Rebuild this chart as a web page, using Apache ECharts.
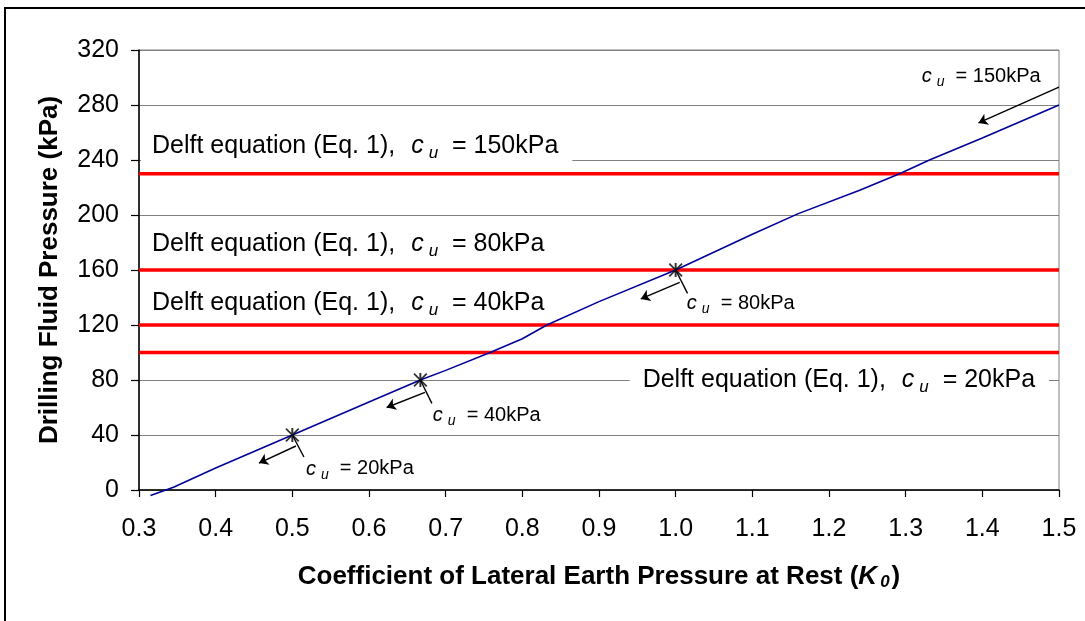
<!DOCTYPE html>
<html>
<head>
<meta charset="utf-8">
<script src="https://cdn.jsdelivr.net/npm/echarts@6/dist/echarts.min.js"></script>
<style>
html,body{margin:0;padding:0;background:#fff;}
#chart{width:1085px;height:621px;}
</style>
</head>
<body>
<div id="chart"></div>
<script>
// ---- data ----
const kValues  = [0.315, 0.345, 0.40, 0.45, 0.50, 0.55, 0.60, 0.667, 0.70, 0.758, 0.80, 0.832, 0.90, 1.00, 1.10, 1.16, 1.24, 1.292, 1.331, 1.40, 1.50];
const pressure = [-4, 2, 16, 28, 40, 52, 64, 80, 87, 100, 110, 120, 137, 160, 186, 201, 218, 230, 240, 256, 280];

const delftPressure = [230, 160, 120, 100];
const delftCu       = [150, 80, 40, 20];

const markerK  = [0.5, 0.667, 1.0];
const markerP  = [40, 80, 160];
const markerCu = [20, 40, 80];

const curveCuLabels = [20, 40, 80, 150];

const xTicks = [0.3, 0.4, 0.5, 0.6, 0.7, 0.8, 0.9, 1.0, 1.1, 1.2, 1.3, 1.4, 1.5];
const yTicks = [0, 40, 80, 120, 160, 200, 240, 280, 320];

// ---- annotation placement (data coordinates) ----
const delftLabelAt = [[0.3026, 250], [0.3026, 179], [0.3026, 136], [0.940, 80]];
const delftPadLeft = [11, 11, 11, 13];
const curveLabelAt = [[0.5177, 15.3], [0.6833, 54.5], [1.0145, 136], [1.3209, 301]];
const leaderLines  = [
  [[0.500, 40], [0.5151, 24]],
  [[0.667, 80], [0.682, 63]],
  [[1.000, 160], [1.0155, 143]]
];
const arrowLines = [
  [[0.5047, 32], [0.4565, 19.6]],
  [[0.673, 71], [0.623, 60]],
  [[1.0053, 151], [0.9545, 139]],
  [[1.500, 293], [1.395, 267]]
];

const FONT = "'Liberation Sans', Arial, sans-serif";
const chart = echarts.init(document.getElementById('chart'), null, {renderer:'canvas'});

const bigRich = {
  t: {fontSize: 25, fontFamily: FONT, color: '#000'},
  c: {fontSize: 25, fontFamily: FONT, fontStyle: 'italic', color: '#000', padding: [0, 0, 0, 9]},
  u: {fontSize: 17, fontFamily: FONT, fontStyle: 'italic', color: '#000', padding: [15, 0, 0, 5]}
};
const smallRich = {
  t: {fontSize: 20, fontFamily: FONT, color: '#000'},
  c: {fontSize: 20, fontFamily: FONT, fontStyle: 'italic', color: '#000'},
  u: {fontSize: 14, fontFamily: FONT, fontStyle: 'italic', color: '#000', padding: [12, 0, 0, 5]}
};

const series = [];

// red Delft lines
delftPressure.forEach((p, i) => {
  series.push({
    type: 'line',
    data: [[xTicks[0], p], [xTicks[xTicks.length - 1], p]],
    symbol: 'none',
    lineStyle: {color: '#ff0000', width: 3.5},
    silent: true,
    z: 3,
    markPoint: {
      symbol: 'circle', symbolSize: 0, silent: true,
      data: [{
        coord: delftLabelAt[i],
        label: {
          show: true, position: 'right', distance: 0,
          backgroundColor: '#fff',
          padding: [2, 14, 2, delftPadLeft[i]],
          formatter: '{t|Delft equation (Eq. 1), }{c|c}{u|u}{t|  = ' + delftCu[i] + 'kPa}',
          rich: bigRich
        }
      }]
    }
  });
});

// curve
series.push({
  type: 'line',
  data: kValues.map((k, i) => [k, pressure[i]]),
  symbol: 'none',
  clip: false,
  lineStyle: {color: '#000099', width: 1.6},
  silent: true,
  z: 5,
  markPoint: {
    symbol: 'circle', symbolSize: 0, silent: true,
    data: curveCuLabels.map((cu, i) => ({
      coord: curveLabelAt[i],
      label: {
        show: true, position: 'right', distance: 0,
        formatter: '{c|c}{u|u}{t|  = ' + cu + 'kPa}',
        rich: smallRich
      }
    }))
  },
  markLine: {
    silent: true,
    symbol: ['none', 'none'],
    label: {show: false},
    lineStyle: {color: '#000', width: 1.4, type: 'solid'},
    data: leaderLines.map(l => [{coord: l[0]}, {coord: l[1]}]).concat(
      arrowLines.map(l => [{coord: l[0], symbol: 'none'}, {coord: l[1], symbol: 'arrow', symbolSize: 9}])
    )
  }
});

// asterisk markers
series.push({
  type: 'scatter',
  data: markerK.map((k, i) => [k, markerP[i]]),
  symbol: 'path://M4.3,0L5.7,0L5.7,10L4.3,10Z M0.9,0L10,9.1L9.1,10L0,0.9Z M9.1,0L10,0.9L0.9,10L0,9.1Z',
  symbolSize: 14,
  itemStyle: {color: '#000'},
  silent: true,
  z: 6
});

chart.setOption({
  animation: false,
  backgroundColor: '#fff',
  grid: {left: 139, right: 26, top: 50, bottom: 131, show: true, borderColor: '#808080', borderWidth: 1},
  xAxis: {
    type: 'value',
    min: xTicks[0], max: xTicks[xTicks.length - 1], interval: 0.1,
    name: '{b|Coefficient of Lateral Earth Pressure at Rest (}{k|K}{s|0}{b|)}',
    nameLocation: 'middle', nameGap: 73,
    nameTextStyle: {
      rich: {
        b: {fontSize: 26, fontWeight: 'bold', fontFamily: FONT, color: '#000'},
        k: {fontSize: 26, fontWeight: 'bold', fontStyle: 'italic', fontFamily: FONT, color: '#000'},
        s: {fontSize: 17, fontWeight: 'bold', fontStyle: 'italic', fontFamily: FONT, color: '#000', padding: [11, 2, 0, 3]}
      }
    },
    axisLine: {show: true, lineStyle: {color: '#000', width: 1.5}},
    axisTick: {show: true, length: 7, lineStyle: {color: '#000', width: 1.2}},
    axisLabel: {fontSize: 25, fontFamily: FONT, color: '#000', margin: 27,
      formatter: v => Number(v).toFixed(1)},
    splitLine: {show: false}
  },
  yAxis: {
    type: 'value',
    min: yTicks[0], max: yTicks[yTicks.length - 1], interval: 40,
    name: 'Drilling Fluid Pressure (kPa)',
    nameLocation: 'middle', nameGap: 76,
    nameTextStyle: {fontSize: 26, fontWeight: 'bold', fontFamily: FONT, color: '#000'},
    axisLine: {show: true, lineStyle: {color: '#000', width: 1.5}},
    axisTick: {show: true, length: 8, lineStyle: {color: '#000', width: 1.2}},
    axisLabel: {fontSize: 25, fontFamily: FONT, color: '#000', margin: 20},
    splitLine: {show: true, lineStyle: {color: '#808080', width: 1}}
  },
  graphic: [{
    type: 'rect', silent: true, z: 100,
    shape: {x: 5, y: 8, width: 1200, height: 800},
    style: {fill: 'none', stroke: '#000', lineWidth: 2}
  }],
  series: series
});
</script>
</body>
</html>
